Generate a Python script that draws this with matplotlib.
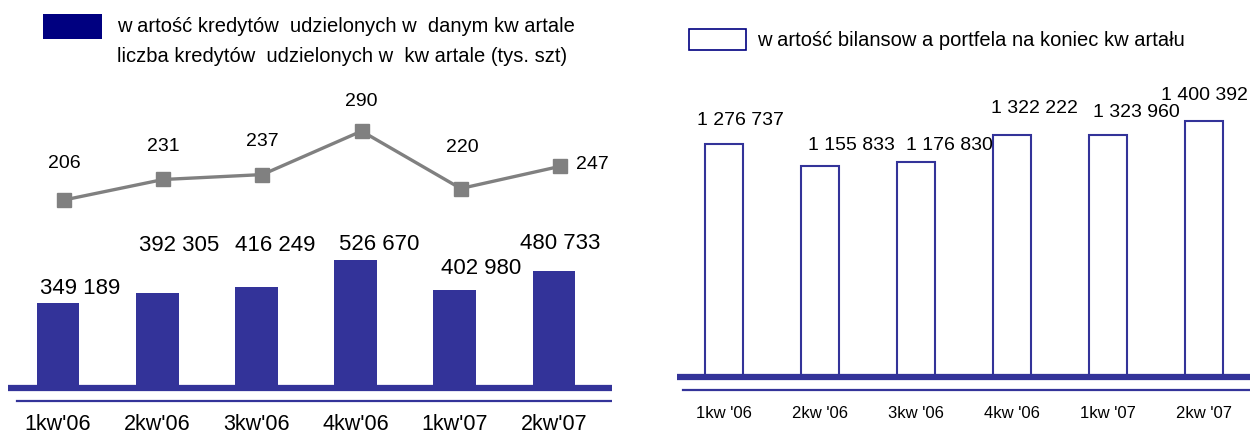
import matplotlib
matplotlib.use("Agg")
from matplotlib import pyplot as plt
from matplotlib.patches import Rectangle

plt.rcParams['font.family'] = ['Liberation Sans', 'DejaVu Sans']

W, H = 1250, 434
navy = '#333399'
grey = '#808080'

# quarterly data
kwartaly_l = ["1kw'06", "2kw'06", "3kw'06", "4kw'06", "1kw'07", "2kw'07"]
kwartaly_r = ["1kw '06", "2kw '06", "3kw '06", "4kw '06", "1kw '07", "2kw '07"]
wartosc_kredytow = [349189, 392305, 416249, 526670, 402980, 480733]
liczba_kredytow = [206, 231, 237, 290, 220, 247]
wartosc_portfela = [1276737, 1155833, 1176830, 1322222, 1323960, 1400392]

# label offsets (pixels, right / up) from the top of each mark
off_bar_l = [(22, 15), (22, 47), (19, 41), (24, 16), (26, 22), (6, 28)]
off_line = [(0, 37), (0, 33), (0, 33), (0, 30), (2, 41), (32, 2)]
off_bar_r = [(16, 23), (31, 20), (33, 16), (22, 27), (28, 22), (0, 26)]


def fmt(v):
    return f"{v:,}".replace(",", " ")


def box(x0, y0, x1, y1):
    # pixel box (top-left origin) -> figure fraction rect
    return [x0 / W, 1 - y1 / H, (x1 - x0) / W, (y1 - y0) / H]


def px2pt(p):
    return p * 72 / 100


fig = plt.figure(figsize=(W / 100, H / 100), dpi=100)

# ---- left panel: bars + count line ----
k_l = 128 / 526670.0
ax = fig.add_axes(box(8, 100, 612, 410))
ax.set_xlim((8 - 58) / 99.2, (612 - 58) / 99.2)
ax.set_ylim(-(410 - 388) / k_l, (388 - 100) / k_l)
x = range(len(kwartaly_l))
ax.bar(x, wartosc_kredytow, width=0.43, color=navy, zorder=2)
for i, v in enumerate(wartosc_kredytow):
    ax.annotate(fmt(v), (i, v), xytext=(px2pt(off_bar_l[i][0]), px2pt(off_bar_l[i][1])),
                textcoords='offset points', ha='center', va='center', fontsize=16)
ax.axhline(0, color=navy, lw=4.5, solid_capstyle='round', zorder=3)
ax.axhline(-13 / k_l, xmin=9 / 604, xmax=1, color=navy, lw=1.6)
ax.set_xticks(list(x), kwartaly_l, fontsize=15.5)
ax.tick_params(axis='x', length=0, pad=3)
ax.set_yticks([])
for s in ax.spines.values():
    s.set_visible(False)
ax.patch.set_visible(False)

k2 = 0.82
ax2 = ax.twinx()
ax2.set_ylim(206 - (410 - 200) / k2, 206 + (200 - 100) / k2)
xl = [i + 0.06 for i in x]
ax2.plot(xl, liczba_kredytow, color=grey, lw=2.4, marker='s', markersize=9.5,
         markeredgecolor=grey, zorder=4)
for i, v in enumerate(liczba_kredytow):
    ax2.annotate(str(v), (xl[i], v), xytext=(px2pt(off_line[i][0]), px2pt(off_line[i][1])),
                 textcoords='offset points', ha='center', va='center', fontsize=14)
ax2.set_yticks([])
for s in ax2.spines.values():
    s.set_visible(False)

# left legend
fig.patches.append(Rectangle((43 / W, 1 - 39 / H), 59 / W, 25 / H, transform=fig.transFigure,
                             facecolor='#000080', edgecolor='none'))
fig.text(117 / W, 1 - 27 / H, "w artość kredytów  udzielonych w  danym kw artale",
         fontsize=14.5, va='center')
fig.text(117 / W, 1 - 57 / H, "liczba kredytów  udzielonych w  kw artale (tys. szt)",
         fontsize=14.5, va='center')

# ---- right panel: portfolio value ----
k_r = 256 / 1400392.0
axr = fig.add_axes(box(677, 80, 1250, 400))
axr.set_xlim((677 - 724) / 96.0, (1250 - 724) / 96.0)
axr.set_ylim(-(400 - 377) / k_r, (377 - 80) / k_r)
xr = range(len(kwartaly_r))
axr.bar(xr, wartosc_portfela, width=0.39, facecolor='white', edgecolor=navy, linewidth=1.5, zorder=2)
for i, v in enumerate(wartosc_portfela):
    axr.annotate(fmt(v), (i, v), xytext=(px2pt(off_bar_r[i][0]), px2pt(off_bar_r[i][1])),
                 textcoords='offset points', ha='center', va='center', fontsize=14)
axr.axhline(0, color=navy, lw=4.5, solid_capstyle='round', zorder=3)
axr.axhline(-13 / k_r, xmin=6 / 573, xmax=1, color=navy, lw=1.6)
axr.set_xticks(list(xr), kwartaly_r, fontsize=12)
axr.tick_params(axis='x', length=0, pad=4)
axr.set_yticks([])
for s in axr.spines.values():
    s.set_visible(False)
axr.patch.set_visible(False)

# right legend
fig.patches.append(Rectangle((689 / W, 1 - 50 / H), 57 / W, 21 / H, transform=fig.transFigure,
                             facecolor='white', edgecolor='#000080', linewidth=1.2))
fig.text(757 / W, 1 - 40 / H, "w artość bilansow a portfela na koniec kw artału",
         fontsize=14.5, va='center')

fig.savefig("out.png", dpi=100)
